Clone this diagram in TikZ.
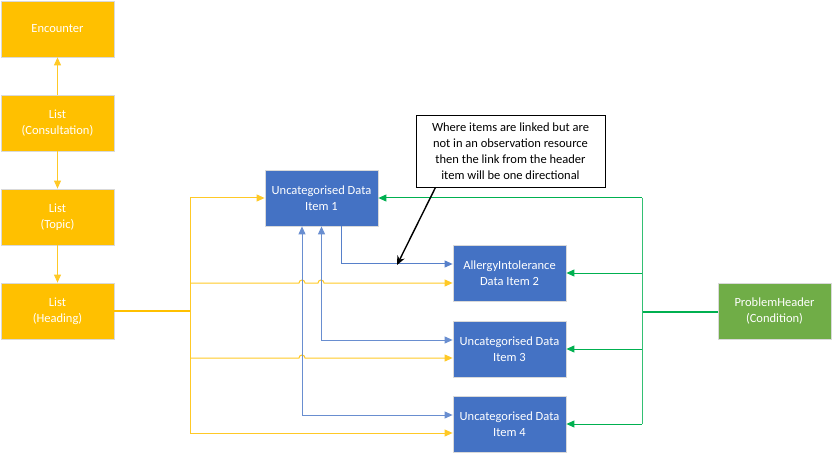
\documentclass[tikz,border=0pt]{standalone}
\usepackage{fontspec}
\setmainfont{Carlito}
\usepackage{xcolor}
\usetikzlibrary{arrows.meta, positioning, calc}
\definecolor{lstgold}{HTML}{FFC000}
\definecolor{itemblue}{HTML}{4472C4}
\definecolor{hdrgreen}{HTML}{70AD47}
\definecolor{linkgreen}{HTML}{00B050}
\begin{document}
\begin{tikzpicture}[x=1pt, y=-1pt,
  box/.style={rectangle, draw=black!15, line width=0.8pt, text=white,
              minimum width=113pt, minimum height=56pt, align=center,
              font=\fontsize{12.5}{16}\selectfont},
  lst/.style={box, fill=lstgold},
  item/.style={box, fill=itemblue},
  hdr/.style={box, fill=hdrgreen},
  note/.style={rectangle, draw=black, thick, fill=white, text=black,
               minimum width=189pt, minimum height=72pt, align=center,
               font=\fontsize{12.5}{16}\selectfont, inner sep=2pt},
  tip/.style={-{Triangle[length=8pt, width=7pt]}},
  ora/.style={tip, color=lstgold!85, line width=1pt},
  orl/.style={color=lstgold, line width=1.8pt},
  bla/.style={tip, color=itemblue!90, line width=1pt},
  blb/.style={{Triangle[length=8pt, width=7pt]}-{Triangle[length=8pt, width=7pt]},
              color=itemblue!80, line width=1pt},
  gra/.style={tip, color=linkgreen, line width=1pt},
  grl/.style={color=linkgreen, line width=2pt},
  call/.style={-{Stealth[length=9pt, width=8pt]}, black, line width=1.4pt}
]
\useasboundingbox (0,0) rectangle (832,454);
%% List column
\node[lst] (enc) at (57.5, 29) {Encounter};
\node[lst] (con) at (57.5,123) {List\\(Consultation)};
\node[lst] (top) at (57.5,217) {List\\(Topic)};
\node[lst] (hea) at (57.5,311) {List\\(Heading)};
\draw[ora] (con) -- (enc);
\draw[ora] (con) -- (top);
\draw[ora] (top) -- (hea);
%% Data items
\node[item] (it1) at (321.5,198) {Uncategorised Data\\Item 1};
\node[item] (it2) at (509.5,273) {AllergyIntolerance\\Data Item 2};
\node[item] (it3) at (509.5,349) {Uncategorised Data\\Item 3};
\node[item] (it4) at (509.5,424) {Uncategorised Data\\Item 4};
\node[hdr] (ph) at (774.5,311.5) {ProblemHeader\\(Condition)};
%% Note
\node[note] (nt) at (510.5,151) {Where items are linked but are\\not in an observation resource\\then the link from the header\\item will be one directional};
%% Heading links
\coordinate (hj) at (190,311);
\coordinate (ot1) at (190,198);
\coordinate (ot4) at (190,433);
\draw[orl] (hea) -- (hj);
\draw[color=lstgold!85, line width=1pt] (ot1) -- (ot4);
\draw[ora] (ot1) -- (it1);
\draw[ora] (190,283) -- (299,283) arc[start angle=180, end angle=360, radius=3]
  -- (318,283) arc[start angle=180, end angle=360, radius=3] -- ([yshift=-10pt]it2.west);
\draw[ora] (190,358) -- (299,358) arc[start angle=180, end angle=360, radius=3]
  -- ([yshift=-9pt]it3.west);
\draw[ora] (ot4) -- ([yshift=-9pt]it4.west);
%% Item links
\draw[bla] ([xshift=19.5pt]it1.south) |- ([yshift=9pt]it2.west);
\draw[blb] (it1.south) |- ([yshift=9pt]it3.west);
\draw[blb] ([xshift=-19.5pt]it1.south) |- ([yshift=9pt]it4.west);
%% Header links
\coordinate (gj) at (642,311.5);
\coordinate (gt1) at (642,198);
\coordinate (gt4) at (642,424);
\draw[grl] (ph) -- (gj);
\draw[color=linkgreen!80, line width=1pt] (gt1) -- (gt4);
\draw[gra] (gt1) -- (it1);
\draw[gra] (642,273) -- (it2);
\draw[gra] (642,349) -- (it3);
\draw[gra] (gt4) -- (it4);
%% Callout
\coordinate (ct) at (397,265);
\draw[call] ([xshift=-75pt]nt.south) -- (ct);
\end{tikzpicture}
\end{document}
